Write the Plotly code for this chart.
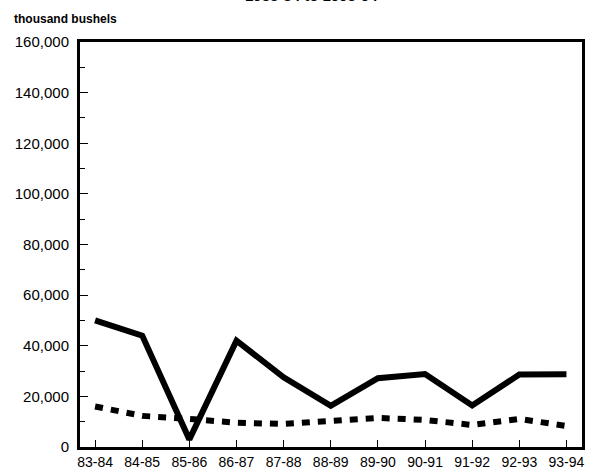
import plotly.graph_objects as go

seasons = ["83-84", "84-85", "85-86", "86-87", "87-88", "88-89",
           "89-90", "90-91", "91-92", "92-93", "93-94"]
solid_series = [50000, 44000, 3000, 42000, 27500, 16300, 27200, 28800, 16400, 28600, 28700]
dotted_series = [16000, 12300, 11100, 9600, 9100, 10300, 11500, 10700, 8700, 11100, 8300]
y_ticks = [0, 20000, 40000, 60000, 80000, 100000, 120000, 140000, 160000]

xpos = list(range(len(seasons)))

fig = go.Figure()
fig.add_trace(go.Scatter(x=xpos, y=solid_series, mode="lines",
                         line=dict(color="black", width=6), showlegend=False))
fig.add_trace(go.Scatter(x=xpos, y=dotted_series, mode="lines",
                         line=dict(color="black", width=6, dash="8px,8px"), showlegend=False))

fig.update_layout(
    width=600, height=475,
    margin=dict(l=80, r=18, t=42, b=28),
    paper_bgcolor="white", plot_bgcolor="white",
    font=dict(family="Liberation Sans, Arial, sans-serif", color="black", size=12),
    xaxis=dict(
        range=[-0.32, 10.33], tickmode="array", tickvals=xpos, ticktext=seasons,
        showgrid=False, zeroline=False, showline=True, mirror=True, automargin=False,
        linecolor="black", linewidth=3, ticks="inside", ticklen=7, tickcolor="black",
        tickfont=dict(size=14),
    ),
    yaxis=dict(
        range=[0, 160000], tickmode="array", tickvals=y_ticks, tickformat=",d",
        showgrid=False, zeroline=False, showline=True, mirror=True, automargin=False,
        linecolor="black", linewidth=3, ticks="inside", ticklen=8, tickcolor="black",
        minor=dict(ticks="inside", dtick=10000, ticklen=5, tickcolor="black"),
        tickfont=dict(size=15), ticklabelstandoff=5,
    ),
    annotations=[
        dict(text="<b>thousand bushels</b>", xref="paper", yref="paper",
             x=-0.135, y=1.035, xanchor="left", yanchor="bottom", showarrow=False,
             font=dict(size=12)),
        dict(text="<b>1983-84 to 1993-94</b>", xref="paper", yref="paper",
             x=0.462, y=1.09, xanchor="center", yanchor="bottom", showarrow=False,
             font=dict(size=15)),
    ],
)

fig.write_html("out.html", config={"displayModeBar": False},
               post_script="document.body.style.margin='0';document.body.style.padding='0';")
